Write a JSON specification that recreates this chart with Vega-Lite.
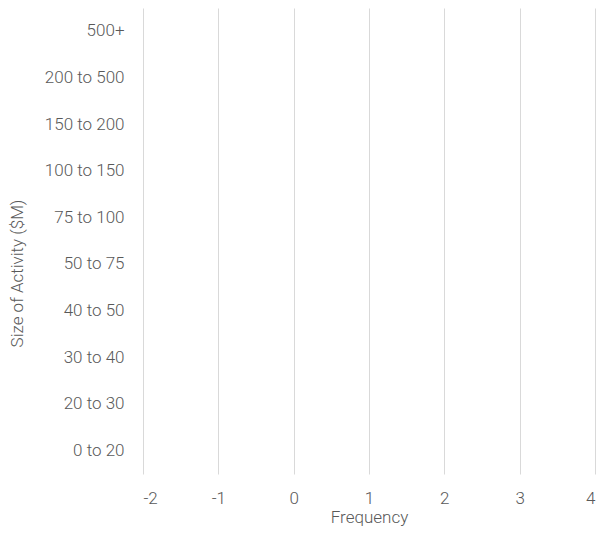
{
  "$schema": "https://vega.github.io/schema/vega-lite/v6.json",
  "width": 452,
  "height": 466,
  "autosize": {"type": "none"},
  "padding": {"left": 143, "top": 8, "right": 11, "bottom": 60},
  "background": "white",
  "config": {"view": {"stroke": null}, "font": "Roboto"},
  "data": {
    "values": [
      {"size": "500+", "frequency": 0},
      {"size": "200 to 500", "frequency": 0},
      {"size": "150 to 200", "frequency": 0},
      {"size": "100 to 150", "frequency": 0},
      {"size": "75 to 100", "frequency": 0},
      {"size": "50 to 75", "frequency": 0},
      {"size": "40 to 50", "frequency": 0},
      {"size": "30 to 40", "frequency": 0},
      {"size": "20 to 30", "frequency": 0},
      {"size": "0 to 20", "frequency": 0}
    ]
  },
  "mark": {"type": "bar", "color": "#4472c4"},
  "encoding": {
    "y": {
      "field": "size",
      "type": "nominal",
      "sort": null,
      "scale": {"paddingInner": 0.5, "paddingOuter": 0.25},
      "axis": {
        "title": "Size of Activity ($M)",
        "titleFont": "Roboto",
        "titleFontSize": 17,
        "titleFontWeight": 300,
        "titleColor": "#595959",
        "titleX": -126,
        "titleY": 265,
        "titleAngle": -90,
        "titleBaseline": "middle",
        "titleAnchor": null,
        "labelFont": "Roboto",
        "labelFontSize": 17,
        "labelFontWeight": 300,
        "labelColor": "#595959",
        "labelPadding": 19,
        "ticks": false,
        "domain": false,
        "grid": false
      }
    },
    "x": {
      "field": "frequency",
      "type": "quantitative",
      "scale": {"domain": [-2, 4], "nice": false},
      "axis": {
        "title": "Frequency",
        "titleFont": "Roboto",
        "titleFontSize": 17,
        "titleFontWeight": 300,
        "titleColor": "#595959",
        "titlePadding": 3,
        "labelFont": "Roboto",
        "labelFontSize": 17,
        "labelFontWeight": 300,
        "labelColor": "#595959",
        "labelPadding": 16,
        "labelExpr": "datum.value",
        "values": [-2, -1, 0, 1, 2, 3, 4],
        "ticks": false,
        "domain": false,
        "grid": true,
        "gridColor": "#d9d9d9",
        "gridWidth": 1
      }
    }
  }
}
